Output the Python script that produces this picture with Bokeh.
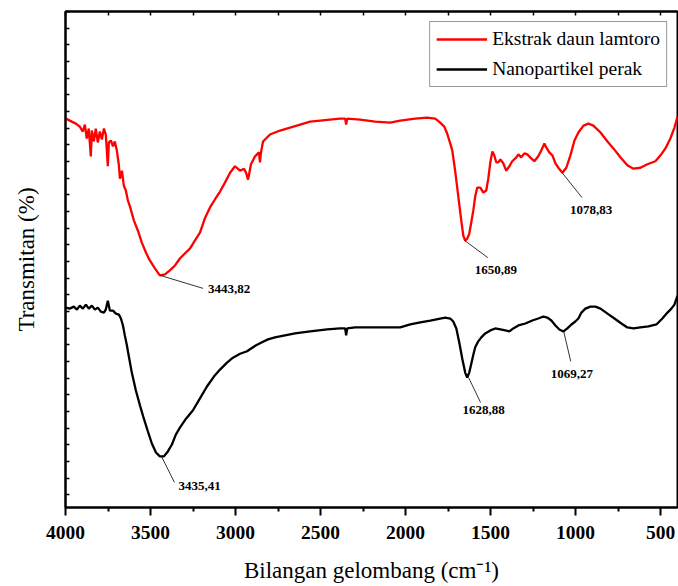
from bokeh.plotting import figure
from bokeh.models import Range1d, FixedTicker, LinearAxis, Label
from bokeh.embed import file_html
from bokeh.resources import INLINE

# Ekstrak daun lamtoro (red)
red_wn = [4000, 3986, 3963, 3939, 3916, 3898, 3886, 3875, 3863, 3851, 3845, 3833, 3822, 3810,
          3798, 3786, 3774, 3763, 3751, 3745, 3733, 3721, 3710, 3698, 3686, 3680, 3668, 3657,
          3645, 3633, 3621, 3598, 3574, 3551, 3527, 3504, 3474, 3445, 3415, 3386, 3356, 3327,
          3298, 3268, 3239, 3209, 3180, 3150, 3121, 3091, 3062, 3032, 3003, 2973, 2950, 2938,
          2926, 2909, 2885, 2862, 2856, 2850, 2838, 2797, 2738, 2679, 2620, 2561, 2502, 2444,
          2385, 2355, 2349, 2343, 2267, 2178, 2090, 2031, 1943, 1872, 1825, 1796, 1772, 1755,
          1737, 1725, 1708, 1690, 1672, 1660, 1649, 1637, 1625, 1613, 1601, 1590, 1578, 1560,
          1542, 1525, 1513, 1501, 1489, 1478, 1466, 1454, 1442, 1425, 1407, 1389, 1372, 1348,
          1336, 1319, 1301, 1284, 1260, 1242, 1219, 1201, 1183, 1172, 1154, 1136, 1118, 1101,
          1077, 1054, 1030, 1006, 983, 953, 924, 895, 853, 812, 777, 736, 695, 659, 618, 577,
          530, 500, 471, 442, 418, 400]
red_T = [78.4, 78.2, 77.8, 77.4, 76.8, 75.8, 77.2, 74.4, 76.4, 70.8, 76.0, 73.8, 76.4, 73.6,
         75.8, 74.2, 76.4, 75.2, 68.8, 73.6, 74.0, 72.8, 73.8, 72.0, 69.0, 66.3, 67.9, 64.9,
         63.9, 61.9, 60.7, 57.9, 55.8, 53.4, 51.4, 49.8, 48.2, 46.8, 47.0, 47.8, 48.8, 50.2,
         51.2, 52.2, 53.8, 55.4, 58.3, 60.5, 62.1, 63.7, 65.5, 67.5, 68.8, 67.9, 68.3, 67.5,
         66.1, 69.2, 70.8, 71.6, 69.6, 71.6, 73.8, 75.2, 76.0, 76.6, 77.2, 77.8, 78.0, 78.2,
         78.4, 78.4, 77.2, 78.4, 78.2, 77.8, 77.6, 78.0, 78.4, 78.6, 78.4, 77.6, 76.8, 75.4,
         73.4, 72.0, 67.9, 62.9, 57.9, 54.8, 53.8, 54.2, 55.2, 57.5, 59.9, 62.7, 64.5, 64.5,
         63.5, 63.9, 66.3, 69.6, 71.8, 71.0, 69.6, 69.6, 70.2, 69.4, 67.9, 68.8, 69.8, 70.6,
         71.2, 70.6, 71.4, 71.2, 70.4, 69.8, 70.8, 72.0, 73.4, 72.6, 71.6, 71.0, 69.4, 68.5,
         67.5, 68.5, 71.0, 74.0, 75.6, 77.0, 77.4, 77.0, 75.6, 73.8, 72.4, 70.6, 69.0, 68.3,
         68.5, 69.2, 69.8, 71.0, 72.4, 74.4, 76.6, 78.8]

# Nanopartikel perak (black)
black_wn = [4000, 3975, 3951, 3933, 3916, 3898, 3880, 3863, 3845, 3827, 3810, 3792, 3774, 3763,
            3751, 3739, 3721, 3704, 3686, 3674, 3662, 3651, 3639, 3627, 3610, 3586, 3562, 3539,
            3515, 3492, 3468, 3445, 3421, 3398, 3374, 3351, 3327, 3291, 3250, 3209, 3168, 3127,
            3091, 3050, 3015, 2973, 2932, 2915, 2879, 2844, 2809, 2768, 2709, 2650, 2561, 2461,
            2385, 2355, 2349, 2343, 2296, 2208, 2120, 2031, 1972, 1913, 1854, 1796, 1766, 1737,
            1719, 1701, 1684, 1666, 1649, 1637, 1625, 1613, 1601, 1590, 1572, 1554, 1531, 1501,
            1472, 1442, 1413, 1389, 1366, 1336, 1295, 1254, 1219, 1189, 1166, 1142, 1118, 1095,
            1071, 1048, 1024, 1001, 983, 965, 942, 912, 883, 853, 812, 771, 730, 695, 659, 618,
            571, 524, 489, 459, 436, 418, 400]
black_T = [40.3, 40.1, 40.5, 39.9, 40.7, 40.1, 40.9, 40.1, 40.7, 39.9, 40.3, 39.5, 39.3, 39.9,
           41.7, 39.7, 39.7, 39.1, 38.9, 38.1, 36.7, 34.7, 32.7, 30.4, 27.2, 23.6, 20.6, 17.9,
           15.3, 12.9, 11.1, 10.3, 10.3, 11.3, 12.7, 14.7, 16.1, 17.9, 19.6, 22.0, 24.4, 26.4,
           27.8, 29.2, 30.2, 31.0, 31.5, 31.9, 32.7, 33.3, 33.9, 34.3, 34.7, 35.1, 35.5, 35.9,
           36.1, 36.1, 34.7, 36.1, 36.3, 36.3, 36.3, 36.3, 36.9, 37.3, 37.7, 38.1, 38.3, 38.1,
           37.5, 36.1, 33.3, 30.0, 27.2, 26.2, 27.2, 29.0, 30.8, 32.3, 33.5, 34.3, 35.1, 35.7,
           36.1, 35.9, 35.7, 35.5, 36.1, 36.7, 37.1, 37.7, 38.1, 38.5, 38.3, 37.7, 36.7, 35.9,
           35.5, 36.1, 36.9, 37.5, 38.1, 39.3, 40.1, 40.5, 40.5, 40.1, 39.1, 38.1, 37.1, 36.3,
           36.1, 36.3, 36.5, 36.9, 38.1, 39.3, 40.1, 40.9, 42.7]

peak_wn = [3443.82, 1650.89, 1078.83, 3435.41, 1628.88, 1069.27]
peak_T = [46.8, 53.8, 67.5, 10.3, 26.2, 35.5]
peak_labels = ["3443,82", "1650,89", "1078,83", "3435,41", "1628,88", "1069,27"]

x_ticks = [4000, 3500, 3000, 2500, 2000, 1500, 1000, 500]
x_minor = [3750, 3250, 2750, 2250, 1750, 1250, 750]

series_names = ["Ekstrak daun lamtoro", "Nanopartikel perak"]
x_title = "Bilangan gelombang (cm\u207b\u00b9)"
y_title = "Transmitan (%)"

# annotation styling (screen-pixel offsets from each peak)
lead_dx = [43, 23, 20, 13, 12, 7]
lead_dy = [13, 17, 25, 26, 25, 30]
text_dx = [48, 10, 8, 17, -6, -13]
text_dy = [14, 29, 37, 30, 32, 43]

FONT = "Liberation Serif"
W, H = 678, 586
BL, BR, BT, BB = 65, 1, 11, 79
XMIN, XMAX, YMIN, YMAX = 4000, 400, 0, 100
fw = W - BL - BR
fh = H - BT - BB
ux = (XMIN - XMAX) / fw
uy = (YMAX - YMIN) / fh

p = figure(width=W, height=H, x_range=Range1d(XMIN, XMAX), y_range=Range1d(YMIN, YMAX),
           output_backend="svg", toolbar_location=None,
           min_border_left=BL, min_border_right=BR, min_border_top=BT, min_border_bottom=BB,
           x_axis_location="below")
p.grid.visible = False
p.outline_line_color = "black"
p.outline_line_width = 2
p.background_fill_color = "white"
p.border_fill_color = "white"

p.line(red_wn, red_T, line_color="#ff0000", line_width=2.3, legend_label=series_names[0])
p.line(black_wn, black_T, line_color="black", line_width=2.3, legend_label=series_names[1])

# x axis
xa = p.xaxis[0]
xa.ticker = FixedTicker(ticks=x_ticks, minor_ticks=x_minor)
xa.axis_label = x_title
xa.axis_label_text_font = FONT
xa.axis_label_text_font_size = "23px"
xa.axis_label_text_font_style = "normal"
xa.axis_label_text_color = "black"
xa.axis_label_standoff = 16
xa.major_label_text_font = FONT
xa.major_label_text_font_size = "19.5px"
xa.major_label_text_font_style = "bold"
xa.major_label_text_color = "black"
xa.major_label_standoff = 10
xa.axis_line_width = 2
xa.major_tick_line_width = 2
xa.minor_tick_line_width = 2
xa.major_tick_out = 8
xa.major_tick_in = 0
xa.minor_tick_out = 4
xa.minor_tick_in = 0

# y axis: ticks only (as minor ticks, so no tick labels are drawn)
y_ticks = [YMAX - 3.36 * k for k in range(30)]
ya = p.yaxis[0]
ya.ticker = FixedTicker(ticks=[], minor_ticks=y_ticks)
ya.axis_label = y_title
ya.axis_label_text_font = FONT
ya.axis_label_text_font_size = "23px"
ya.axis_label_text_font_style = "normal"
ya.axis_label_text_color = "black"
ya.axis_label_standoff = 27
ya.major_label_standoff = 0
ya.axis_line_width = 2
ya.minor_tick_in = 4
ya.minor_tick_out = 0
ya.minor_tick_line_width = 1.5

# top axis: ticks only
ta = LinearAxis(ticker=FixedTicker(ticks=[], minor_ticks=x_ticks + x_minor),
                major_label_standoff=0,
                minor_tick_in=4, minor_tick_out=0,
                minor_tick_line_width=1.5, axis_line_width=2)
p.add_layout(ta, "above")

# peak annotations
x1 = [w - dx * ux for w, dx in zip(peak_wn, lead_dx)]
y1 = [t - dy * uy for t, dy in zip(peak_T, lead_dy)]
p.segment(x0=peak_wn, y0=peak_T, x1=x1, y1=y1, line_color="black", line_width=0.8)
for w, t, lab, dx, dy in zip(peak_wn, peak_T, peak_labels, text_dx, text_dy):
    p.add_layout(Label(x=w, y=t, x_offset=dx, y_offset=-dy, text=lab,
                       text_font=FONT, text_font_size="13px", text_font_style="bold",
                       text_baseline="middle", text_align="left", text_color="black"))

# legend
lg = p.legend[0]
lg.location = "top_right"
lg.margin = 10
lg.padding = 6
lg.spacing = 8
lg.label_height = 20
lg.glyph_height = 20
lg.glyph_width = 51
lg.label_standoff = 5
lg.label_text_font = FONT
lg.label_text_font_size = "19.5px"
lg.label_text_color = "black"
lg.border_line_color = "#333333"
lg.border_line_width = 1
lg.background_fill_alpha = 1.0

open("out.html", "w").write(file_html(p, INLINE))
